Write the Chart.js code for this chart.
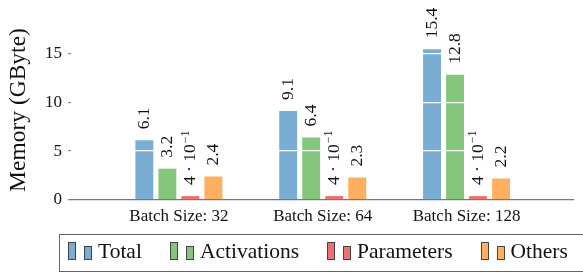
<!DOCTYPE html>
<html>
<head>
<meta charset="utf-8">
<script src="https://cdn.jsdelivr.net/npm/chart.js@4.4.0/dist/chart.umd.min.js"></script>
<style>
  html, body { margin: 0; padding: 0; background: #fff; }
  #wrap { position: relative; width: 583px; height: 274px; overflow: hidden; }
  #legend {
    position: absolute; left: 59px; top: 234px; width: 600px; height: 38px;
    border: 1px solid #666; box-sizing: border-box;
    display: flex; align-items: flex-end; padding: 0 0 9px 8px;
    font-family: "Liberation Serif", serif; font-size: 21.5px; color: #111;
  }
  .item { display: flex; align-items: flex-end; margin-right: 28px; line-height: 1; }
  .ico { display: inline-block; width: 6px; border: 1px solid #444; margin-bottom: 2px; }
  .ico.tall { height: 16px; margin-right: 8px; }
  .ico.short { height: 12px; margin-right: 6px; }
</style>
</head>
<body>
<div id="wrap">
  <canvas id="chart" width="583" height="274"></canvas>
  <div id="legend"></div>
</div>
<script>
const categories = ["Batch Size: 32", "Batch Size: 64", "Batch Size: 128"];
const batchPos = [0, 1, 2];
const seriesNames = ["Total", "Activations", "Parameters", "Others"];
const total = [6.1, 9.1, 15.4];
const activations = [3.2, 6.4, 12.8];
const parameters = [0.4, 0.4, 0.4];
const others = [2.4, 2.3, 2.2];
const yTicks = [0, 5, 10, 15];
const colors = ["#7aadd3", "#84c77c", "#ef6f6f", "#ffaf60"];

const seriesValues = [total, activations, parameters, others];

function fmtLabel(v) {
  // pgfplots prints small values in sci notation
  if (v < 1) return { base: (v * 10).toFixed(0) + " · 10", sup: "−1" };
  return { base: v.toFixed(1), sup: "" };
}

const valueLabels = {
  id: "valueLabels",
  afterDraw(chart) {
    const ctx = chart.ctx;
    ctx.save();
    chart.data.datasets.forEach((ds, i) => {
      const meta = chart.getDatasetMeta(i);
      meta.data.forEach((bar, j) => {
        const lab = fmtLabel(seriesValues[i][j]);
        ctx.save();
        ctx.translate(bar.x, bar.y - 11);
        ctx.rotate(-Math.PI / 2);
        ctx.fillStyle = "#111";
        ctx.textBaseline = "middle";
        ctx.textAlign = "left";
        ctx.font = "17.5px 'Liberation Serif'";
        ctx.fillText(lab.base, 0, 0);
        if (lab.sup) {
          const w = ctx.measureText(lab.base).width;
          ctx.font = "12px 'Liberation Serif'";
          ctx.fillText(lab.sup, w + 1, -5);
        }
        ctx.restore();
      });
    });
    ctx.restore();
  }
};

const datasets = seriesNames.map((name, i) => ({
  label: name,
  data: batchPos.map((x, j) => ({ x: x, y: seriesValues[i][j] })),
  backgroundColor: colors[i],
  borderWidth: 0,
  categoryPercentage: 0.64,
  barPercentage: 0.78
}));

new Chart(document.getElementById("chart"), {
  type: "bar",
  data: { datasets },
  options: {
    responsive: false,
    animation: false,
    layout: { padding: { top: 20, right: 10, left: 0, bottom: 0 } },
    plugins: { legend: { display: false }, tooltip: { enabled: false } },
    scales: {
      x: {
        type: "linear",
        offset: false,
        min: -0.75,
        max: 2.74,
        afterBuildTicks: s => { s.ticks = batchPos.map(v => ({ value: v })); },
        afterFit: s => { s.height = 74; },
        grid: { display: false, drawTicks: false, offset: false },
        border: { display: true, color: "#777", width: 1.2, z: 2 },
        ticks: {
          padding: 6,
          color: "#111",
          font: { family: "Liberation Serif", size: 17 },
          callback: v => categories[v]
        }
      },
      y: {
        min: 0,
        max: 18.4,
        afterBuildTicks: s => { s.ticks = yTicks.map(v => ({ value: v })); },
        afterFit: s => { s.width = 71; },
        border: { display: false },
        grid: {
          z: 1,
          color: c => (c.tick && c.tick.value === 0 ? "rgba(0,0,0,0)" : "#ffffff"),
          lineWidth: 1.2,
          tickColor: "#888",
          tickLength: 3
        },
        ticks: {
          padding: 6,
          color: "#111",
          font: { family: "Liberation Serif", size: 17 }
        },
        title: {
          display: true,
          text: "Memory (GByte)",
          color: "#111",
          font: { family: "Liberation Serif", size: 23.5 },
          padding: { top: 5, bottom: 0 }
        }
      }
    }
  },
  plugins: [valueLabels]
});

// legend with the pgfplots style double bar icon
const legend = document.getElementById("legend");
seriesNames.forEach((name, i) => {
  const item = document.createElement("div");
  item.className = "item";
  item.innerHTML = `<span class="ico tall" style="background:${colors[i]}"></span>` +
    `<span class="ico short" style="background:${colors[i]}"></span><span>${name}</span>`;
  legend.appendChild(item);
});
</script>
</body>
</html>
